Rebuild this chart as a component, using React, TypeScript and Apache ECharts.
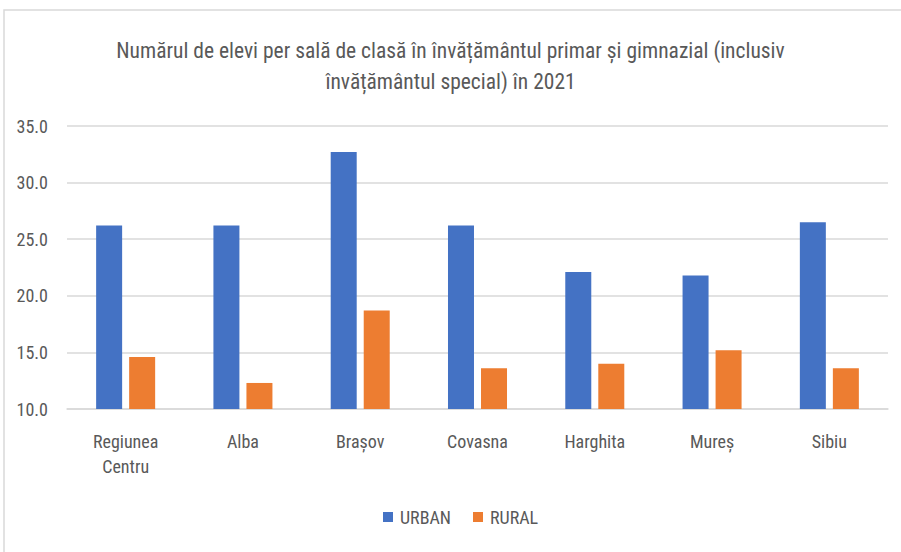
import React, { useEffect, useRef } from "react";
import * as echarts from "echarts";

const categories = ["Regiunea\nCentru", "Alba", "Brașov", "Covasna", "Harghita", "Mureș", "Sibiu"];
const urbanValues = [26.2, 26.2, 32.7, 26.2, 22.1, 21.8, 26.5];
const ruralValues = [14.6, 12.3, 18.7, 13.6, 14.0, 15.2, 13.6];
const seriesNames = ["URBAN", "RURAL"];
const titleText = "Numărul de elevi per sală de clasă în învățământul primar și gimnazial (inclusiv\nînvățământul special) în 2021";

const FONT = "'Liberation Sans Narrow', 'Roboto Condensed', 'DejaVu Sans Condensed', sans-serif";
const TEXT = "#595959";

export default function App() {
  const ref = useRef<HTMLDivElement>(null);
  useEffect(() => {
    const chart = echarts.init(ref.current!, null, { renderer: "svg" });
    chart.setOption({
      animation: false,
      backgroundColor: "#ffffff",
      textStyle: { fontFamily: FONT },
      graphic: [
        {
          type: "rect",
          shape: { x: 4, y: 10, width: 1000, height: 1000 },
          style: { fill: "none", stroke: "#D9D9D9", lineWidth: 1.5 },
          silent: true,
        },
      ],
      title: {
        text: titleText,
        left: "center",
        top: 30,
        textStyle: { fontFamily: FONT, fontSize: 21.5, fontWeight: "normal", color: TEXT, lineHeight: 31 },
      },
      legend: {
        data: seriesNames,
        bottom: 26,
        left: 383,
        padding: 0,
        itemWidth: 10,
        itemHeight: 10,
        itemGap: 22,
        icon: "rect",
        textStyle: { fontFamily: FONT, fontSize: 18, color: TEXT, padding: [0, 0, 0, 2] },
      },
      grid: { left: 67, right: 13, top: 126, bottom: 143, containLabel: false },
      xAxis: {
        type: "category",
        data: categories,
        axisLine: { lineStyle: { color: "#D9D9D9", width: 1.5 } },
        axisTick: { show: false },
        axisLabel: { fontFamily: FONT, fontSize: 18, color: TEXT, lineHeight: 25, margin: 20 },
      },
      yAxis: {
        type: "value",
        min: 10,
        max: 35,
        interval: 5,
        axisLine: { show: false },
        axisTick: { show: false },
        splitLine: { lineStyle: { color: "#D9D9D9", width: 1.5 } },
        axisLabel: {
          fontFamily: FONT,
          fontSize: 18,
          color: TEXT,
          margin: 19,
          formatter: (v: number) => v.toFixed(1),
        },
      },
      series: [
        {
          name: seriesNames[0],
          type: "bar",
          data: urbanValues,
          barWidth: 26,
          barGap: "27%",
          itemStyle: { color: "#4472C4" },
        },
        {
          name: seriesNames[1],
          type: "bar",
          data: ruralValues,
          barWidth: 26,
          itemStyle: { color: "#ED7D31" },
        },
      ],
    });
    return () => chart.dispose();
  }, []);
  return <div ref={ref} style={{ position: "fixed", left: 0, top: 0, width: 901, height: 552 }} />;
}
